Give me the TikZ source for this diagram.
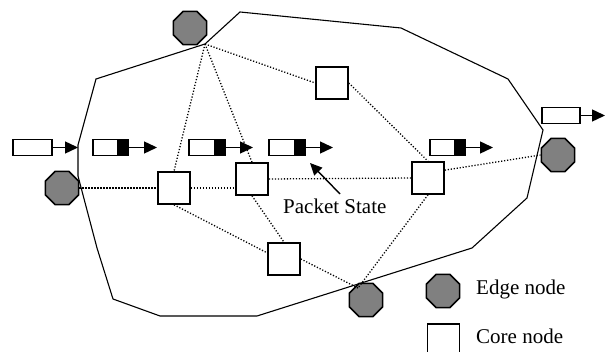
\documentclass[tikz,border=0pt]{standalone}
\usepackage{fontspec}
\setmainfont{Liberation Serif}
\usetikzlibrary{shapes.geometric,arrows.meta}
\definecolor{edgegray}{RGB}{128,128,128}
\tikzset{
  edgenode/.style={regular polygon, regular polygon sides=8, draw=black, fill=edgegray, line width=1.6pt, inner sep=0pt, minimum size=36pt},
  corenode/.style={rectangle, draw=black, fill=white, line width=1.6pt, inner sep=0pt, minimum size=32pt},
  link/.style={line width=1.3pt, dash pattern=on 1.2pt off 1.8pt},
  cloud/.style={line width=1.1pt},
  pkt/.style={rectangle, draw=black, fill=white, line width=1.6pt, inner sep=0pt, minimum height=16pt, minimum width=#1},
  pktb/.style={pkt=#1, path picture={\fill[black] (path picture bounding box.north east) rectangle ([xshift=-11pt]path picture bounding box.south east);}},
  flow/.style={line width=1.4pt, -{Triangle[length=13pt,width=12pt]}},
  lbl/.style={font=\fontsize{21}{24}\selectfont, inner sep=0pt},
}
\begin{document}
\begin{tikzpicture}[x=1pt,y=-1pt]
\useasboundingbox (0,0) rectangle (610,352);
% domain boundary
\draw[cloud] (96,79) -- (205,44) -- (240,12) -- (401,28) -- (508,79) -- (543,130) -- (527,198) -- (472,248) -- (257,316) -- (160,316) -- (113,299) -- (97,248) -- (78,176) -- (78,145) -- cycle;
% convergence points
\coordinate (vT) at (205,44);
\coordinate (vB) at (358,288);
% edge nodes
\node[edgenode] (eT) at (190,28) {};
\node[edgenode] (eL) at (62,188) {};
\node[edgenode] (eR) at (558,155) {};
\node[edgenode] (eB) at (366,300) {};
% core nodes
\node[corenode] (cT) at (332,83) {};
\node[corenode] (c1) at (174,188) {};
\node[corenode] (c2) at (252,179) {};
\node[corenode] (c3) at (428,178) {};
\node[corenode] (c4) at (284,259) {};
% links
\draw[link] (vT) -- (c1.north);
\draw[link] (vT) -- (c2.north);
\draw[link] (vT) -- (cT.west);
\draw[link] (cT.east) -- (c3.north);
\draw[link] (eL.east) -- (c1.west);
\draw[link] (c1.east) -- (c1.east -| c2.west);
\draw[link] (c2.east) -- (c3.west);
\draw[link] (c3.25) -- (eR.west);
\draw[link] (c1.south) -- (c4.160);
\draw[link] (c2.south) -- (c4.north);
\draw[link] (c4.east) -- (vB);
\draw[link] (c3.south) -- (vB);
% packets
\node[pkt=39pt] (p1) at (32.5,147.5) {};
\node[pktb=35pt] (p2) at (110.5,147.5) {};
\node[pktb=36pt] (p3) at (207,147.5) {};
\node[pktb=36pt] (p4) at (287,147.5) {};
\node[pktb=35pt] (p5) at (447.5,147.5) {};
\node[pkt=38pt] (p6) at (561,115.5) {};
\coordinate (t1) at (78,147.5);
\coordinate (t2) at (157,147.5);
\coordinate (t3) at (253,147.5);
\coordinate (t4) at (333,147.5);
\coordinate (t5) at (493,147.5);
\coordinate (t6) at (605,115.5);
\draw[flow] (p1.east) -- (t1);
\draw[flow] (p2.east) -- (t2);
\draw[flow] (p3.east) -- (t3);
\draw[flow] (p4.east) -- (t4);
\draw[flow] (p5.east) -- (t5);
\draw[flow] (p6.east) -- (t6);
% packet state label
\node[lbl, anchor=base west] (ps) at (283,214) {Packet State};
\coordinate (psTail) at (340,194);
\coordinate (psHead) at (310,163);
\draw[line width=1.4pt, -{Triangle[length=12pt,width=11pt]}] (psTail) -- (psHead);
% legend
\node[edgenode] (lgE) at (443,291) {};
\node[corenode] (lgC) at (443.5,340) {};
\node[lbl, anchor=base west] (lgEt) at (476,295) {Edge node};
\node[lbl, anchor=base west] (lgCt) at (476,343) {Core node};
\end{tikzpicture}
\end{document}
